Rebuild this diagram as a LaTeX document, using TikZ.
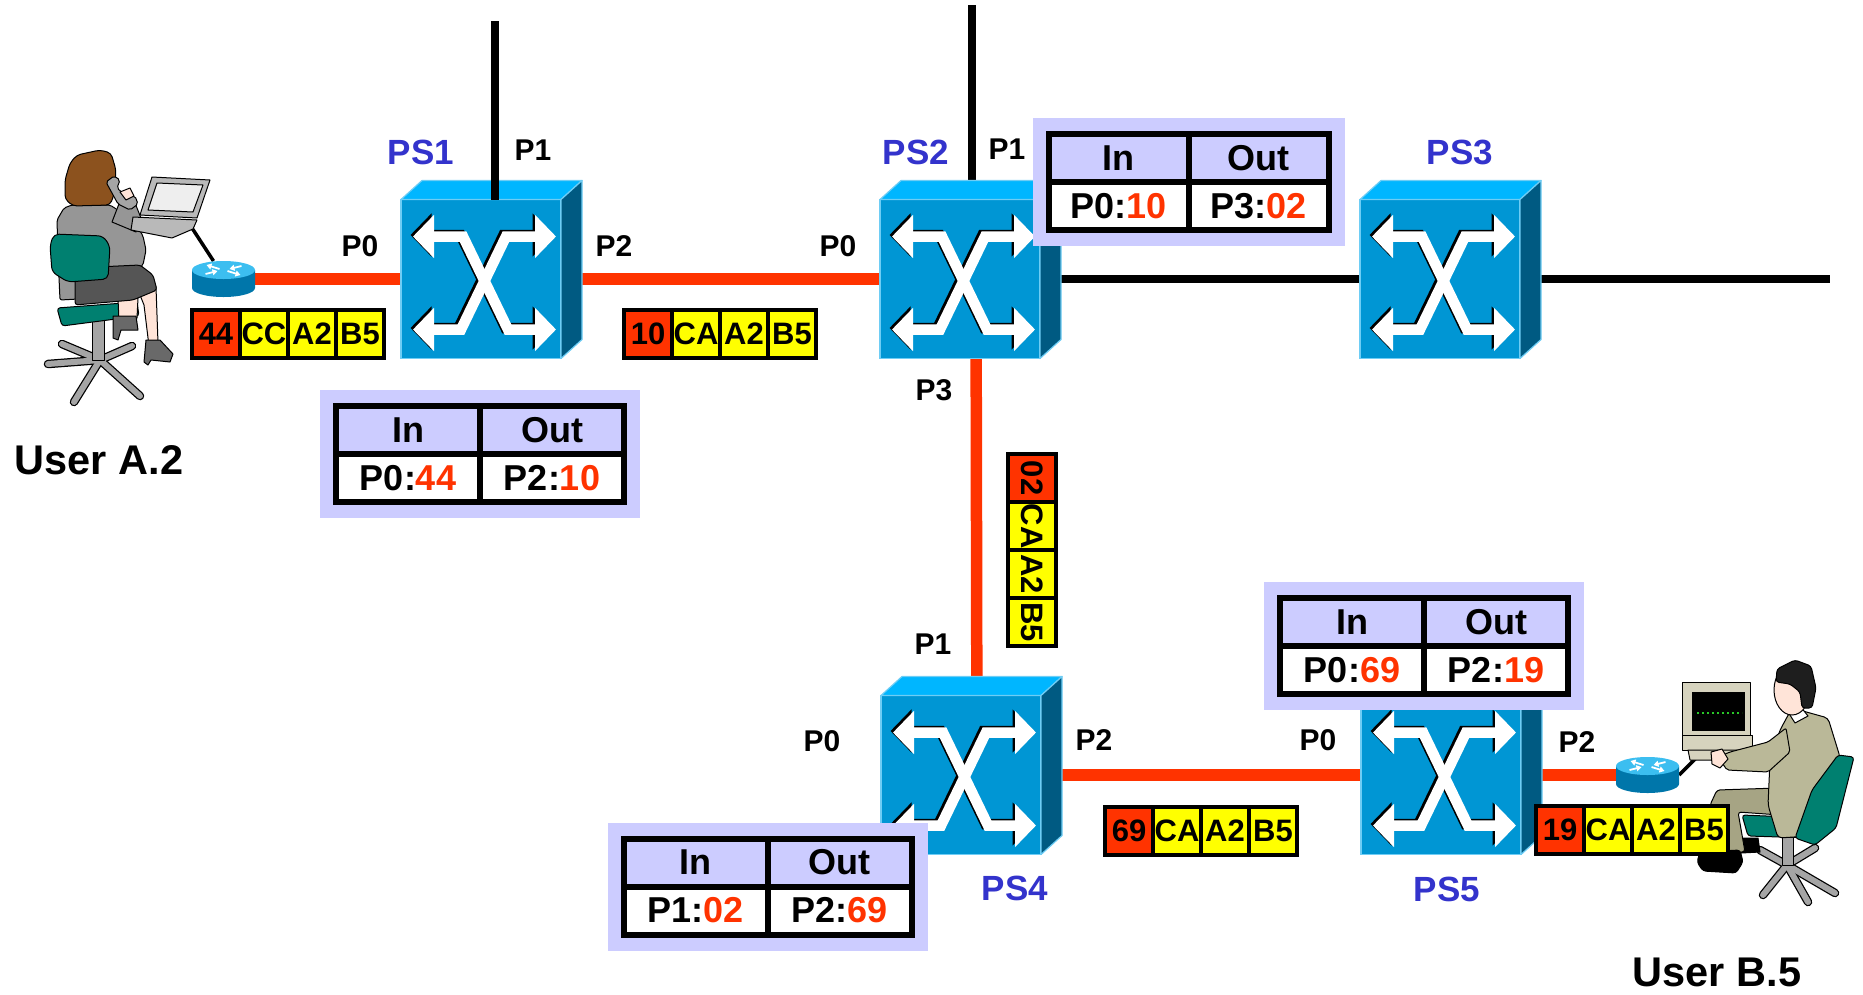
\documentclass[tikz,border=0pt]{standalone}
\usepackage{fontspec}
\setmainfont{Liberation Sans}
\usetikzlibrary{arrows.meta,backgrounds}

\definecolor{swfront}{RGB}{0,150,212}
\definecolor{swtop}{RGB}{0,182,255}
\definecolor{swside}{RGB}{0,90,130}
\definecolor{swedge}{RGB}{110,205,245}
\definecolor{linkred}{RGB}{255,51,0}
\definecolor{cellyellow}{RGB}{255,255,0}
\definecolor{tablebg}{RGB}{204,204,255}
\definecolor{labelblue}{RGB}{51,51,204}
\definecolor{routertop}{RGB}{60,190,240}
\definecolor{routerside}{RGB}{0,118,170}
\definecolor{hair}{RGB}{140,82,30}
\definecolor{jacket}{RGB}{150,150,150}
\definecolor{skirt}{RGB}{85,85,85}
\definecolor{skin}{RGB}{255,228,216}
\definecolor{chairteal}{RGB}{0,128,112}
\definecolor{chairgray}{RGB}{165,165,165}
\definecolor{shoe}{RGB}{105,105,105}
\definecolor{laptop}{RGB}{185,185,185}
\definecolor{laptopscreen}{RGB}{238,238,238}
\definecolor{suit}{RGB}{186,184,152}
\definecolor{suitdark}{RGB}{166,164,132}
\definecolor{manhair}{RGB}{30,30,30}
\definecolor{monitor}{RGB}{214,211,190}
\definecolor{dotgreen}{RGB}{40,200,40}

\tikzset{
  switchface/.style={rectangle, minimum width=160pt, minimum height=159pt, inner sep=0pt, outer sep=0pt,
    fill=swfront, draw=swedge, line width=1.2pt},
  xbar/.style={line width=10.5pt, {Triangle[length=21pt,width=42pt]}-{Triangle[length=21pt,width=42pt]}},
  routerbox/.style={rectangle, minimum width=63pt, minimum height=36pt, inner sep=0pt, outer sep=0pt},
  redlink/.style={draw=linkred, line width=11.5pt},
  blacklink/.style={draw=black, line width=8pt},
  thinlink/.style={draw=black, line width=3.5pt},
  pktcell/.style={rectangle, draw=black, line width=4pt, minimum width=48pt, minimum height=48pt,
    inner sep=0pt, font=\fontsize{31}{31}\selectfont\bfseries},
  tcell/.style={rectangle, draw=black, line width=6pt, minimum height=48pt, inner sep=0pt,
    font=\fontsize{36}{36}\selectfont\bfseries},
  porttag/.style={inner sep=0pt, font=\fontsize{30}{30}\selectfont\bfseries},
  swname/.style={inner sep=0pt, text=labelblue, font=\fontsize{35}{35}\selectfont\bfseries},
  username/.style={inner sep=0pt, font=\fontsize{41.5}{41.5}\selectfont\bfseries},
  figline/.style={draw=black, line width=1pt, line join=round},
}

% 3-D switch: top and side faces plus the crossed double arrows on the front face
\newcommand\switchbody[1]{%
  \filldraw[fill=swtop, draw=swedge, line width=1.2pt, line join=round]
    (#1.north west) -- ++(21,-19) -- ([shift={(21,-19)}]#1.north east) -- (#1.north east) -- cycle;
  \filldraw[fill=swside, draw=swedge, line width=1.2pt, line join=round]
    (#1.north east) -- ++(21,-19) -- ([shift={(21,-19)}]#1.south east) -- (#1.south east) -- cycle;
  \begin{scope}[shift={(#1.north west)}]
    \begin{scope}[shift={(-2.5,-1.5)}]
      \draw[xbar, black] (12,37) -- (62,37) -- (107,130) -- (155,130);
      \draw[xbar, black] (155,37) -- (105,37) -- (60,130) -- (12,130);
    \end{scope}
    \draw[xbar, white] (12,37) -- (62,37) -- (107,130) -- (155,130);
    \draw[xbar, white] (155,37) -- (105,37) -- (60,130) -- (12,130);
  \end{scope}
}

% router: short cylinder with four small arrows on its lid
\newcommand\routerbody[1]{%
  \fill[routerside] ([shift={(0,9)}]#1.north west) -- ([shift={(0,-9)}]#1.south west)
    arc[start angle=180, end angle=360, x radius=31.5pt, y radius=9pt]
    -- ([shift={(0,9)}]#1.north east) -- cycle;
  \fill[routertop] ([shift={(0,9)}]#1.north) ellipse[x radius=31.5pt, y radius=9pt];
  \begin{scope}[shift={([shift={(0,9)}]#1.north)}]
    \draw[white, line width=1.8pt, -{Triangle[length=5pt,width=6pt]}] (-4,-1) -- (-17,-5);
    \draw[white, line width=1.8pt, -{Triangle[length=5pt,width=6pt]}] (4,1) -- (17,5);
    \draw[white, line width=1.8pt, -{Triangle[length=5pt,width=6pt]}] (18,-4) -- (6,-1);
    \draw[white, line width=1.8pt, -{Triangle[length=5pt,width=6pt]}] (-18,4) -- (-6,1);
  \end{scope}
}

% packet header: label cell in red followed by three yellow cells
\newcommand\hpacket[5]{%
  \node[pktcell, fill=linkred] (#1-1) at (#2,#3) {#4};
  \node[pktcell, fill=cellyellow] (#1-2) at (#2+48,#3) {#5};
  \node[pktcell, fill=cellyellow] (#1-3) at (#2+96,#3) {A2};
  \node[pktcell, fill=cellyellow] (#1-4) at (#2+144,#3) {B5};
}
\newcommand\vpacket[5]{%
  \node[pktcell, fill=linkred, rotate=-90] (#1-1) at (#2,#3) {#4};
  \node[pktcell, fill=cellyellow, rotate=-90] (#1-2) at (#2,#3+48) {#5};
  \node[pktcell, fill=cellyellow, rotate=-90] (#1-3) at (#2,#3+96) {A2};
  \node[pktcell, fill=cellyellow, rotate=-90] (#1-4) at (#2,#3+144) {B5};
}

% label-swapping table: [cell width]{name}{cx}{cy}{in entry}{out entry}
\newcommand\flowtable[6][144]{%
  \fill[tablebg] (#3-#1-16,#4-64) rectangle (#3+#1+16,#4+64);
  \node[tcell, minimum width=#1pt, fill=tablebg] (#2-inh) at (#3-#1/2,#4-24) {In};
  \node[tcell, minimum width=#1pt, fill=tablebg] (#2-outh) at (#3+#1/2,#4-24) {Out};
  \node[tcell, minimum width=#1pt, fill=white] (#2-in) at (#3-#1/2,#4+24) {#5};
  \node[tcell, minimum width=#1pt, fill=white] (#2-out) at (#3+#1/2,#4+24) {#6};
}
\newcommand\lbl[1]{\textcolor{linkred}{#1}}

\begin{document}
\begin{tikzpicture}[x=1pt,y=-1pt]
\useasboundingbox (0,0) rectangle (1863,994);

% ---------- switches ----------
\node[switchface] (ps1) at (481,279) {};
\node[switchface] (ps2) at (960,279) {};
\node[switchface] (ps3) at (1440,279) {};
\node[switchface] (ps4) at (961,775) {};
\node[switchface] (ps5) at (1441,775) {};
\switchbody{ps1}
\switchbody{ps2}
\switchbody{ps3}
\switchbody{ps4}
\switchbody{ps5}

% ---------- routers ----------
\node[routerbox] (ra) at (223.5,279) {};
\node[routerbox] (rb) at (1647.5,775) {};
\routerbody{ra}
\routerbody{rb}

\coordinate (ps1up) at (495,21);
\coordinate (ps2up) at (972,5);
\coordinate (ps3out) at (1830,279);
\coordinate (laptopA) at (192,228);
\coordinate (screenB) at (1698,756);

% ---------- links ----------
\begin{scope}[on background layer]
  \draw[redlink] (ra) -- (ps1);
  \draw[redlink] (ps1) -- (ps2);
  \draw[redlink] ([xshift=16pt]ps2.center) -- ([xshift=16pt]ps4.center);
  \draw[redlink] (ps4) -- (ps5);
  \draw[redlink] (ps5) -- (rb);
  \draw[blacklink] (ps2) -- (ps3);
  \draw[blacklink] (ps3) -- (ps3out);
  \draw[blacklink] (ps2up) -- ([xshift=12pt]ps2.center);
  \draw[thinlink] ([xshift=-10pt]ra.north) -- (laptopA);
  \draw[thinlink] (rb.east) -- (screenB);
\end{scope}
\draw[blacklink] (ps1up) -- ([xshift=14pt]ps1.north);

% ---------- user A.2 at a laptop ----------
\foreach \ex/\ey in {48/364, 74/402, 140/396, 132/346, 62/344}
  \draw[black, line width=8.5pt, line cap=round] (100,360) -- (\ex,\ey);
\foreach \ex/\ey in {48/364, 74/402, 140/396, 132/346, 62/344}
  \draw[chairgray, line width=6pt, line cap=round] (100,360) -- (\ex,\ey);
\filldraw[fill=chairgray, figline] (92,318) rectangle (104,360);
\filldraw[fill=chairteal, figline, rounded corners=3pt] (57,308) -- (137,302) -- (139,316) -- (62,326) -- cycle;
\filldraw[fill=skin, figline] (138,290) -- (156,287) -- (158,343) -- (149,346) -- (144,305) -- cycle;
\filldraw[fill=skin, figline] (118,298) -- (138,298) -- (137,318) -- (119,322) -- cycle;
\filldraw[fill=shoe, figline] (113,316) -- (136,316) -- (138,330) -- (121,330) -- (118,340) -- (113,338) -- cycle;
\filldraw[fill=shoe, figline] (146,340) -- (160,340) -- (173,354) -- (170,362) -- (151,360) -- (148,365) -- (144,362) -- cycle;
\filldraw[fill=jacket, figline, rounded corners=2pt] (72,205) -- (110,205) -- (124,214) -- (136,224) -- (143,236)
  -- (146,250) -- (143,265) -- (135,272) -- (118,277) -- (115,297) -- (60,300) -- (58,255) -- (57,220) -- (64,208) -- cycle;
\filldraw[fill=skirt, figline, rounded corners=3pt] (75,268) -- (140,265) -- (153,275) -- (157,290) -- (133,300) -- (75,305) -- cycle;
\filldraw[fill=chairteal, figline, rounded corners=5pt] (54,234) -- (103,236) -- (110,246) -- (108,279) -- (68,282) -- (52,272) -- (50,245) -- cycle;
\filldraw[fill=jacket, figline] (112,222) -- (122,196) -- (133,198) -- (141,218) -- (136,232) -- cycle;
\filldraw[fill=hair, figline, rounded corners=4pt] (77,155) -- (100,150) -- (111,153) -- (116,170) -- (114,195)
  -- (110,205) -- (73,206) -- (65,199) -- (65,180) -- (70,163) -- cycle;
\filldraw[fill=chairgray, figline, rounded corners=2pt] (106,182) -- (114,176) -- (120,180) -- (117,188) -- (126,196)
  -- (135,196) -- (138,204) -- (130,210) -- (118,204) -- cycle;
\filldraw[fill=skin, figline] (120,192) -- (130,188) -- (134,196) -- (126,200) -- cycle;
\filldraw[fill=laptop, figline] (152,177) -- (210,180) -- (197,218) -- (140,215) -- cycle;
\filldraw[fill=laptopscreen, figline] (157,183) -- (203,185) -- (193,212) -- (148,210) -- cycle;
\filldraw[fill=laptop, figline] (133,217) -- (197,220) -- (193,229) -- (172,238) -- (131,230) -- cycle;

% ---------- user B.5 at a terminal ----------
\foreach \ex/\ey in {1760/850, 1763/895, 1808/902, 1835/893, 1815/848}
  \draw[black, line width=8.5pt, line cap=round] (1787,865) -- (\ex,\ey);
\foreach \ex/\ey in {1760/850, 1763/895, 1808/902, 1835/893, 1815/848}
  \draw[chairgray, line width=6pt, line cap=round] (1787,865) -- (\ex,\ey);
\filldraw[fill=chairgray, figline] (1782,833) rectangle (1793,865);
\filldraw[fill=chairteal, figline, rounded corners=3pt] (1742,815) -- (1815,818) -- (1813,838) -- (1748,836) -- cycle;
\filldraw[fill=monitor, figline] (1682,682) rectangle (1750,735);
\fill[black] (1692,692) rectangle (1745,731);
\draw[dotgreen, line width=1.6pt, dash pattern=on 2pt off 3pt] (1697,713) -- (1742,713);
\filldraw[fill=monitor, figline] (1682,735) rectangle (1752,750);
\filldraw[fill=monitor, figline] (1688,750) -- (1762,750) -- (1766,760) -- (1690,760) -- cycle;
\filldraw[fill=black, figline] (1738,838) -- (1758,838) -- (1760,852) -- (1741,853) -- cycle;
\filldraw[fill=suitdark, figline, rounded corners=3pt] (1778,788) -- (1717,790) -- (1710,805) -- (1720,852) -- (1745,852)
  -- (1738,812) -- (1780,815) -- cycle;
\filldraw[fill=black, figline, rounded corners=3pt] (1700,852) -- (1740,850) -- (1743,862) -- (1736,873) -- (1703,871) -- (1697,862) -- cycle;
\filldraw[fill=suit, figline, rounded corners=4pt] (1792,708) -- (1828,718) -- (1840,757) -- (1840,795) -- (1826,835)
  -- (1778,838) -- (1768,805) -- (1770,760) -- (1780,730) -- cycle;
\filldraw[fill=chairteal, figline, rounded corners=3pt] (1838,755) -- (1854,757) -- (1836,828) -- (1815,845) -- (1795,838) -- (1812,790) -- cycle;
\filldraw[fill=suit, figline, rounded corners=2pt] (1718,757) -- (1727,770) -- (1768,772) -- (1790,752) -- (1786,728)
  -- (1768,742) -- (1730,752) -- cycle;
\filldraw[fill=skin, figline] (1711,752) -- (1722,749) -- (1728,759) -- (1720,768) -- (1712,764) -- cycle;
\filldraw[fill=white, figline] (1788,712) -- (1800,706) -- (1808,716) -- (1795,723) -- cycle;
\filldraw[fill=skin, figline] (1792,690) ellipse[x radius=18pt, y radius=25pt];
\filldraw[fill=manhair, figline, rounded corners=3pt] (1777,669) -- (1795,660) -- (1811,666) -- (1816,688) -- (1812,708)
  -- (1802,708) -- (1800,692) -- (1790,684) -- (1776,682) -- cycle;

% ---------- packets ----------
\hpacket{pkta}{216}{334}{44}{CC}
\hpacket{pktb}{648}{333.5}{10}{CA}
\vpacket{pktc}{1032}{478}{02}{CA}
\hpacket{pktd}{1129}{831}{69}{CA}
\hpacket{pkte}{1560}{829.5}{19}{CA}

% ---------- label tables ----------
\flowtable{tab1}{480}{454}{P0:\lbl{44}}{P2:\lbl{10}}
\flowtable[140]{tab2}{1188.5}{182}{P0:\lbl{10}}{P3:\lbl{02}}
\flowtable{tab4}{767.5}{886.5}{P1:\lbl{02}}{P2:\lbl{69}}
\flowtable{tab5}{1424}{646}{P0:\lbl{69}}{P2:\lbl{19}}

% ---------- names and ports ----------
\node[swname] (ps1-name) at (421,152) {PS1};
\node[swname] (ps2-name) at (916,152) {PS2};
\node[swname] (ps3-name) at (1460,152) {PS3};
\node[swname] (ps4-name) at (1015,888) {PS4};
\node[swname] (ps5-name) at (1447,889) {PS5};

\node[porttag] (ps1-p0) at (360,246) {P0};
\node[porttag] (ps1-p1) at (533,150) {P1};
\node[porttag] (ps1-p2) at (614,246) {P2};
\node[porttag] (ps2-p0) at (838,246) {P0};
\node[porttag] (ps2-p1) at (1007,149) {P1};
\node[porttag] (ps2-p3) at (934,390) {P3};
\node[porttag] (ps4-p1) at (933,644) {P1};
\node[porttag] (ps4-p0) at (822,741) {P0};
\node[porttag] (ps4-p2) at (1094,740) {P2};
\node[porttag] (ps5-p0) at (1318,740) {P0};
\node[porttag] (ps5-p2) at (1577,742) {P2};

\node[username] (userA) at (99,460) {User A.2};
\node[username] (userB) at (1717,972) {User B.5};
\end{tikzpicture}
\end{document}
